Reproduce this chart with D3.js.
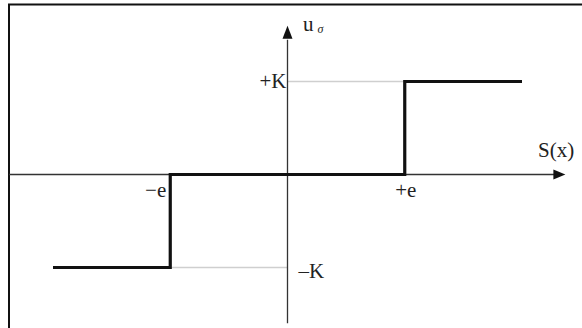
<!DOCTYPE html>
<html>
<head>
<meta charset="utf-8">
<script src="https://cdn.jsdelivr.net/npm/d3@7"></script>
<style>
  html, body { margin: 0; padding: 0; background: #fff; }
  svg { display: block; }
  text { font-family: "Liberation Serif", "DejaVu Serif", serif; fill: #222; }
</style>
</head>
<body>
<svg id="chart" width="582" height="328"></svg>
<script>
// Relay (dead-zone) characteristic: u_σ as a function of S(x)
const stepX = [-2, -1, 1, 2];
const stepY = [-1, 0, 1, 1];
const levelK = 1;   // output magnitude K
const levelE = 1;   // dead-zone half-width e
const xTickLabels = ["\u2212e", "+e"];
const yTickLabels = ["+K", "\u2013K"];
const xAxisLabel = "S(x)";
const yAxisLabel = "u";
const yAxisSub = "\u03c3";

const svg = d3.select("#chart");
const W = 582, H = 328;

const x = d3.scaleLinear().domain([-2, 2]).range([53, 522]);
const y = d3.scaleLinear().domain([-1, 1]).range([267.5, 81.5]);

// frame (top and left edges)
svg.append("line").attr("x1", 8).attr("x2", W).attr("y1", 4.5).attr("y2", 4.5)
  .attr("stroke", "#111").attr("stroke-width", 2);
svg.append("line").attr("x1", 9).attr("x2", 9).attr("y1", 4).attr("y2", H)
  .attr("stroke", "#111").attr("stroke-width", 2);

// light guides from the axis to the ±K levels
svg.append("line")
  .attr("x1", x(0)).attr("x2", x(levelE))
  .attr("y1", y(levelK)).attr("y2", y(levelK))
  .attr("stroke", "#cfcfcf").attr("stroke-width", 1.5);
svg.append("line")
  .attr("x1", x(-levelE)).attr("x2", x(0))
  .attr("y1", y(-levelK)).attr("y2", y(-levelK))
  .attr("stroke", "#cfcfcf").attr("stroke-width", 1.5);

// axes
const axisColor = "#333";
svg.append("line")
  .attr("x1", 9).attr("x2", x(2.33))
  .attr("y1", y(0)).attr("y2", y(0))
  .attr("stroke", axisColor).attr("stroke-width", 1.3);
svg.append("line")
  .attr("x1", x(0)).attr("x2", x(0))
  .attr("y1", y(-1.6)).attr("y2", y(1.45))
  .attr("stroke", axisColor).attr("stroke-width", 1.3);

// arrowheads
const ax = x(2.37), ay = y(0);
svg.append("path")
  .attr("d", `M${ax},${ay} L${ax - 12},${ay - 5} L${ax - 12},${ay + 5} Z`)
  .attr("fill", "#111");
const vx = x(0), vy = y(1.6);
svg.append("path")
  .attr("d", `M${vx},${vy} L${vx - 5},${vy + 13} L${vx + 5},${vy + 13} Z`)
  .attr("fill", "#111");

// relay characteristic
const line = d3.line()
  .x((d, i) => x(stepX[i]))
  .y((d, i) => y(stepY[i]))
  .curve(d3.curveStepAfter);
svg.append("path")
  .datum(stepX)
  .attr("d", line)
  .attr("fill", "none")
  .attr("stroke", "#111")
  .attr("stroke-width", 3.2)
  .attr("stroke-linejoin", "miter");

// tick labels
const fs = 21;
svg.append("text").attr("x", x(-levelE) - 4).attr("y", y(0) + 22)
  .attr("text-anchor", "end").attr("font-size", fs).text(xTickLabels[0]);
svg.append("text").attr("x", x(levelE) + 1).attr("y", y(0) + 22)
  .attr("text-anchor", "middle").attr("font-size", fs).text(xTickLabels[1]);
svg.append("text").attr("x", x(0) - 1).attr("y", y(levelK) + 6)
  .attr("text-anchor", "end").attr("font-size", fs).text(yTickLabels[0]);
svg.append("text").attr("x", x(0) + 11).attr("y", y(-levelK) + 10)
  .attr("text-anchor", "start").attr("font-size", fs).text(yTickLabels[1]);

// axis titles
svg.append("text").attr("x", 538).attr("y", 157)
  .attr("font-size", fs).text(xAxisLabel);
const ut = svg.append("text").attr("x", 303).attr("y", 31).attr("font-size", fs);
ut.append("tspan").text(yAxisLabel);
ut.append("tspan").attr("dx", 4).attr("dy", 2).attr("font-size", 12)
  .attr("font-style", "italic").text(yAxisSub);
</script>
</body>
</html>
